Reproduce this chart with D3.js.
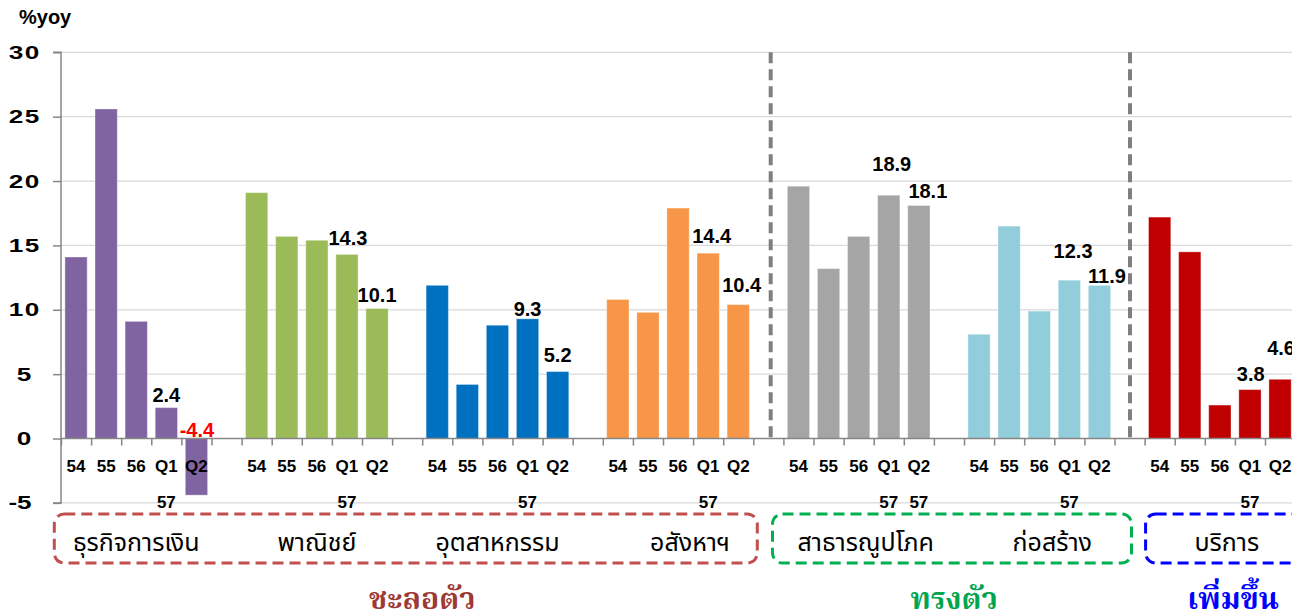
<!DOCTYPE html>
<html>
<head>
<meta charset="utf-8">
<script src="https://cdn.jsdelivr.net/npm/d3@7"></script>
<style>
  html, body { margin: 0; padding: 0; background: #fff; }
  svg { display: block; }
  text { font-family: "Liberation Sans", Arial, sans-serif; }
</style>
</head>
<body>
<div id="chart"></div>
<script>
// ---------------- data ----------------
const periods = ["54", "55", "56", "Q1", "Q2"];
const sectors = ["ธุรกิจการเงิน", "พาณิชย์", "อุตสาหกรรม", "อสังหาฯ", "สาธารณูปโภค", "ก่อสร้าง", "บริการ"];
const finance      = [14.1, 25.6, 9.1, 2.4, -4.4];
const commerce     = [19.1, 15.7, 15.4, 14.3, 10.1];
const industry     = [11.9, 4.2, 8.8, 9.3, 5.2];
const realEstate   = [10.8, 9.8, 17.9, 14.4, 10.4];
const utilities    = [19.6, 13.2, 15.7, 18.9, 18.1];
const construction = [8.1, 16.5, 9.9, 12.3, 11.9];
const services     = [17.2, 14.5, 2.6, 3.8, 4.6];
const seriesValues = [finance, commerce, industry, realEstate, utilities, construction, services];
const yearRow = [
  ["", "", "", "57", ""],
  ["", "", "", "57", ""],
  ["", "", "", "57", ""],
  ["", "", "", "57", ""],
  ["", "", "", "57", "57"],
  ["", "", "", "57", ""],
  ["", "", "", "57", ""]
];
const labelledPeriods = ["Q1", "Q2"];
const yTicks = [-5, 0, 5, 10, 15, 20, 25, 30];
const yUnit = "%yoy";
const trendNames = ["ชะลอตัว", "ทรงตัว", "เพิ่มขึ้น"];

// ---------------- styles / layout ----------------
const colors = ["#8064a2", "#9bbb59", "#0070c0", "#f79646", "#a5a5a5", "#92cddc", "#c00000"];
const trendColors = ["#9b3a36", "#00a550", "#0000ff"];
const W = 1292, H = 615;
const slotsPerGroup = 6;
const nSlots = seriesValues.length * slotsPerGroup;
// label nudges [dx, gap above bar top]
const labelNudge = [
  [[0, 5.6], [0.5, null]],
  [[1, 9.5], [0, 6.8]],
  [[0, 2.5], [0, 10]],
  [[3.5, 10.5], [3.4, 13]],
  [[3, 24], [9, 8]],
  [[3.7, 22], [7.5, 2]],
  [[0.8, 8.6], [1, 24]]
];
const boxLabelDx = [0, 0, 0, 12, 7, 13, 7];

const svg = d3.select("#chart").append("svg")
  .attr("width", W).attr("height", H);

const x0 = 61, step = 30.1;
const slotX = d3.scaleLinear().domain([0, nSlots]).range([x0, x0 + nSlots * step]);
const xBand = d3.scaleBand()
  .domain(d3.range(nSlots))
  .range([x0, x0 + nSlots * step])
  .paddingInner(0.26).paddingOuter(0.13);
const y = d3.scaleLinear().domain([-5, 30]).range([502.9, 52.3]);

// gridlines
svg.append("g").selectAll("line").data(yTicks.filter(d => d !== 0)).join("line")
  .attr("x1", x0).attr("x2", W)
  .attr("y1", d => y(d)).attr("y2", d => y(d))
  .attr("stroke", "#d9d9d9").attr("stroke-width", 1.2);

// flatten bars
const bars = [];
seriesValues.forEach((vals, g) => {
  vals.forEach((v, i) => {
    bars.push({ g, i, slot: g * slotsPerGroup + i, v, period: periods[i], year: yearRow[g][i] });
  });
});

// bars
svg.append("g").selectAll("rect").data(bars).join("rect")
  .attr("x", d => xBand(d.slot))
  .attr("width", xBand.bandwidth())
  .attr("y", d => y(Math.max(0, d.v)))
  .attr("height", d => Math.abs(y(d.v) - y(0)))
  .attr("fill", d => colors[d.g])
  .attr("stroke", "rgba(255,255,255,0.35)").attr("stroke-width", 1);

// y axis
const yAxis = d3.axisLeft(y).tickValues(yTicks).tickSize(8).tickFormat("");
const gy = svg.append("g").attr("transform", `translate(${x0},0)`).call(yAxis);
gy.selectAll("path, line").attr("stroke", "#868686").attr("stroke-width", 1.5);
gy.select("path").attr("d", `M-8,${y(30)}H0V${y(-5)}H-8`);
svg.append("g").selectAll("text").data(yTicks).join("text")
  .attr("transform", d => `translate(${d < 0 ? 20 : 24},${y(d) + 6.5}) scale(1.45,1)`)
  .attr("text-anchor", "middle")
  .attr("font-size", 18).attr("font-weight", "bold").attr("fill", "#000")
  .style("letter-spacing", d => String(d).length === 2 && d > 0 ? "1px" : "0px")
  .attr("dx", d => String(d).length === 2 && d > 0 ? 0.5 : 0)
  .text(d => String(d));

// x axis at zero
const xAxis = d3.axisBottom(slotX).tickValues(d3.range(nSlots + 1)).tickSize(7).tickFormat("");
const gx = svg.append("g").attr("transform", `translate(0,${y(0)})`).call(xAxis);
gx.selectAll("path, line").attr("stroke", "#868686").attr("stroke-width", 1.5);
gx.select("path").attr("d", `M${x0},0H${W}`);

// period tick labels
svg.append("g").selectAll("text").data(bars).join("text")
  .attr("x", d => xBand(d.slot) + xBand.bandwidth() / 2)
  .attr("y", 472)
  .attr("text-anchor", "middle")
  .attr("font-size", 17).attr("font-weight", "bold").attr("fill", "#000")
  .text(d => d.period);

// year row
svg.append("g").selectAll("text").data(bars.filter(d => d.year)).join("text")
  .attr("x", d => xBand(d.slot) + xBand.bandwidth() / 2)
  .attr("y", 508)
  .attr("text-anchor", "middle")
  .attr("font-size", 17).attr("font-weight", "bold").attr("fill", "#000")
  .text(d => d.year);

// value labels
const lab = bars.filter(d => labelledPeriods.includes(d.period));
svg.append("g").selectAll("text").data(lab).join("text")
  .attr("x", d => xBand(d.slot) + xBand.bandwidth() / 2 + labelNudge[d.g][d.i - 3][0])
  .attr("y", d => {
    const gap = labelNudge[d.g][d.i - 3][1];
    return d.v < 0 ? y(0) - 2 : y(d.v) - gap;
  })
  .attr("text-anchor", "middle")
  .attr("font-size", 20).attr("font-weight", "bold")
  .attr("fill", d => d.v < 0 ? "#ff0000" : "#000")
  .text(d => d.v.toFixed(1));

// dashed separators
const seps = [slotX(23) + 17.4, slotX(35) + 15.5];
svg.append("g").selectAll("line").data(seps).join("line")
  .attr("x1", d => d).attr("x2", d => d)
  .attr("y1", y(30)).attr("y2", y(0))
  .attr("stroke", "#7f7f7f").attr("stroke-width", 4)
  .attr("stroke-dasharray", "11,6");

// category boxes
const boxes = [
  { x1: slotX(0) - 6.7, x2: slotX(23) + 4, c: "#c0504d" },
  { x1: slotX(23) + 19.2, x2: slotX(35) + 17, c: "#00b050" },
  { x1: slotX(36) + 1, x2: W + 30, c: "#0000ff" }
];
svg.append("g").selectAll("rect").data(boxes).join("rect")
  .attr("x", d => d.x1).attr("width", d => d.x2 - d.x1)
  .attr("y", 514).attr("height", 49)
  .attr("rx", 10).attr("ry", 10)
  .attr("fill", "none").attr("stroke", d => d.c)
  .attr("stroke-width", 3).attr("stroke-dasharray", "11,6");

// sector labels
svg.append("g").selectAll("text").data(sectors).join("text")
  .attr("x", (d, g) => slotX(g * slotsPerGroup + 2.5) + boxLabelDx[g])
  .attr("y", 551)
  .attr("text-anchor", "middle")
  .attr("font-size", 25).attr("fill", "#000")
  .style("font-family", "'Noto Sans Thai', 'Noto Sans', Tahoma, sans-serif")
  .text(d => d);

// trend titles
const trendX = [slotX(12), slotX(29.67), slotX(38.94)];
svg.append("g").selectAll("text").data(trendNames).join("text")
  .attr("x", (d, i) => trendX[i]).attr("y", 609)
  .attr("text-anchor", "middle")
  .attr("font-size", 30).attr("font-weight", "bold")
  .attr("fill", (d, i) => trendColors[i])
  .style("font-family", "'Noto Serif Thai', 'Noto Sans Thai', serif")
  .text(d => d);

// unit label
svg.append("text").attr("x", 19).attr("y", 24)
  .attr("font-size", 20).attr("font-weight", "bold").attr("fill", "#000")
  .text(yUnit);
</script>
</body>
</html>
